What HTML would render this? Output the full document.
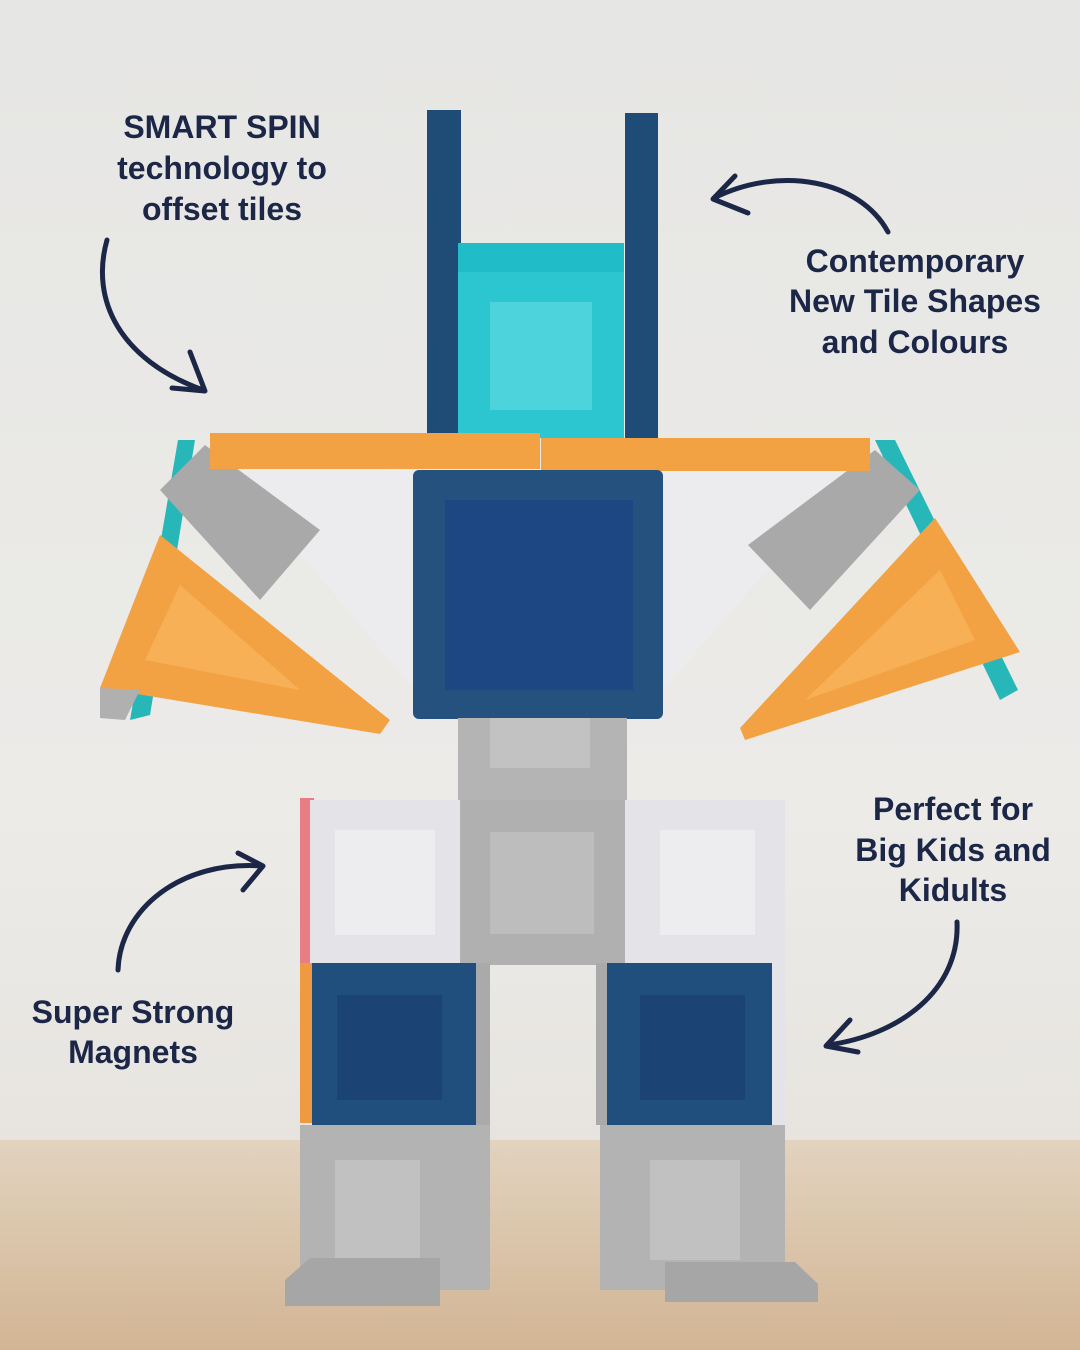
<!DOCTYPE html>
<html><head><meta charset="utf-8"><style>
html,body{margin:0;padding:0;width:1080px;height:1350px;overflow:hidden}
body{background:#e8e8e6}
svg{position:absolute;left:0;top:0}
.t{font-family:"Liberation Sans",sans-serif;font-weight:bold;font-size:32px;fill:#1c2747;text-anchor:middle}
</style></head><body>
<svg width="1080" height="1350" viewBox="0 0 1080 1350">
<defs>
<linearGradient id="bg" x1="0" y1="0" x2="0" y2="1">
<stop offset="0" stop-color="#e6e6e4"/><stop offset="0.6" stop-color="#ecebe8"/><stop offset="1" stop-color="#e4e0da"/></linearGradient>
<linearGradient id="fl" x1="0" y1="0" x2="0" y2="1">
<stop offset="0" stop-color="#e2d3bf"/><stop offset="1" stop-color="#d2b594"/></linearGradient>
</defs>
<rect width="1080" height="1350" fill="url(#bg)"/>
<rect y="1140" width="1080" height="210" fill="url(#fl)"/>
<rect x="427" y="110" width="34" height="330" fill="#1f4c76"/>
<rect x="625" y="113" width="33" height="327" fill="#1f4c76"/>
<rect x="458" y="243" width="166" height="195" fill="#20bdc9"/>
<rect x="458" y="272" width="166" height="166" fill="#2cc6d1"/>
<rect x="490" y="302" width="102" height="108" fill="#4cd3dc"/>
<polygon points="225,465 415,470 415,690" fill="#ececef"/>
<polygon points="855,468 663,470 663,690" fill="#ececef"/>
<polygon points="178,440 195,440 150,715 130,720" fill="#27b7b8"/>
<polygon points="875,440 895,440 1018,690 1000,700" fill="#27b7b8"/>
<polygon points="160,490 205,445 320,530 260,600" fill="#a9a9a9"/>
<polygon points="920,490 875,450 748,545 810,610" fill="#a9a9a9"/>
<rect x="210" y="433" width="330" height="36" fill="#f3a243"/>
<rect x="541" y="438" width="329" height="33" fill="#f3a243"/>
<polygon points="100,688 160,535 390,720 380,734" fill="#f3a243"/>
<polygon points="145,660 180,585 300,690" fill="#f7b055"/>
<polygon points="1020,652 935,518 740,728 745,740" fill="#f3a243"/>
<polygon points="975,640 940,570 805,700" fill="#f7b055"/>
<polygon points="100,688 140,690 125,720 100,718" fill="#b0b0b0"/>
<rect x="413" y="470" width="250" height="249" rx="6" fill="#24517d"/>
<rect x="445" y="500" width="188" height="190" fill="#1d4782"/>
<rect x="458" y="718" width="169" height="82" fill="#b4b4b4"/>
<rect x="490" y="718" width="100" height="50" fill="#c2c2c2"/>
<rect x="458" y="800" width="167" height="165" fill="#b0b0b0"/>
<rect x="490" y="832" width="104" height="102" fill="#bdbdbd"/>
<rect x="300" y="798" width="14" height="167" fill="#e87d83"/>
<rect x="310" y="800" width="150" height="165" fill="#e4e4e8"/>
<rect x="335" y="830" width="100" height="105" fill="#ededf0"/>
<rect x="300" y="963" width="14" height="160" fill="#ef9a40"/>
<rect x="312" y="963" width="165" height="162" fill="#204f7e"/>
<rect x="337" y="995" width="105" height="105" fill="#1b4474"/>
<rect x="476" y="963" width="14" height="162" fill="#aaa"/>
<rect x="300" y="1125" width="190" height="165" fill="#b3b3b3"/>
<rect x="335" y="1160" width="85" height="100" fill="#c1c1c1"/>
<polygon points="285,1280 310,1258 440,1258 440,1306 285,1306" fill="#a6a6a6"/>
<rect x="625" y="800" width="160" height="165" fill="#e4e4e8"/>
<rect x="660" y="830" width="95" height="105" fill="#ededf0"/>
<rect x="596" y="963" width="14" height="162" fill="#aaa"/>
<rect x="607" y="963" width="166" height="165" fill="#204f7e"/>
<rect x="640" y="995" width="105" height="105" fill="#1b4474"/>
<rect x="772" y="963" width="13" height="165" fill="#e4e4e8"/>
<rect x="600" y="1125" width="185" height="165" fill="#b3b3b3"/>
<rect x="650" y="1160" width="90" height="100" fill="#c1c1c1"/>
<polygon points="665,1262 795,1262 818,1284 818,1302 665,1302" fill="#a6a6a6"/>
<g fill="none" stroke="#1c2747" stroke-width="5" stroke-linecap="round" stroke-linejoin="round">
<path d="M107,240 C90,300 120,360 203,390"/>
<path d="M172,388 L205,391 L190,352"/>
<path d="M888,232 C860,180 780,165 714,198"/>
<path d="M735,176 L713,199 L748,213"/>
<path d="M118,970 C120,910 180,860 262,866"/>
<path d="M238,853 L263,866 L243,890"/>
<path d="M957,922 C960,990 900,1035 828,1045"/>
<path d="M850,1020 L826,1046 L858,1052"/>
</g>
<text class="t" x="222" y="138">SMART SPIN</text>
<text class="t" x="222" y="179">technology to</text>
<text class="t" x="222" y="220">offset tiles</text>
<text class="t" x="915" y="272">Contemporary</text>
<text class="t" x="915" y="312">New Tile Shapes</text>
<text class="t" x="915" y="353">and Colours</text>
<text class="t" x="953" y="820">Perfect for</text>
<text class="t" x="953" y="861">Big Kids and</text>
<text class="t" x="953" y="901">Kidults</text>
<text class="t" x="133" y="1023">Super Strong</text>
<text class="t" x="133" y="1063">Magnets</text>
</svg>
</body></html>
